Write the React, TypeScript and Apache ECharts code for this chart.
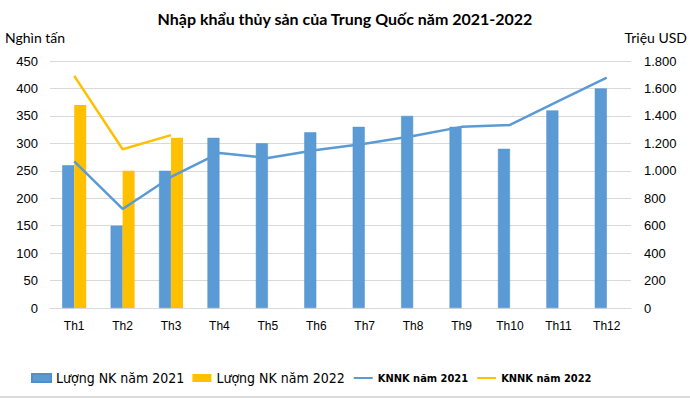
import React, { useEffect, useRef } from "react";
import * as echarts from "echarts";

const categories = ["Th1", "Th2", "Th3", "Th4", "Th5", "Th6", "Th7", "Th8", "Th9", "Th10", "Th11", "Th12"];
const volume2021 = [260, 150, 250, 310, 300, 320, 330, 350, 330, 290, 360, 400];
const volume2022 = [370, 250, 310, null, null, null, null, null, null, null, null, null];
const value2021 = [1068, 722, 955, 1130, 1093, 1151, 1197, 1253, 1320, 1334, 1508, 1678];
const value2022 = [1692, 1157, 1260, null, null, null, null, null, null, null, null, null];
const leftTicks = { min: 0, max: 450, interval: 50 };
const rightTicks = { min: 0, max: 1800, interval: 200 };

const BLUE = "#5B9BD5";
const ORANGE = "#FFC000";
const NARROW = "'Liberation Sans Narrow', 'Arial Narrow', 'DejaVu Sans Condensed', 'Liberation Sans', sans-serif";

export default function App() {
  const ref = useRef<HTMLDivElement>(null);
  useEffect(() => {
    if (!ref.current) return;
    const chart = echarts.init(ref.current, null, { renderer: "svg" });
    const hidden = { color: "rgba(0,0,0,0)", borderWidth: 0, opacity: 0 };
    chart.setOption({
      animation: false,
      backgroundColor: "#ffffff",
      title: {
        text: "Nhập khẩu thủy sản của Trung Quốc năm 2021-2022",
        left: "center",
        top: 5,
        textStyle: { fontFamily: "Lato", fontWeight: "bold", fontSize: 16, color: "#000" },
      },
      grid: { left: 50, right: 58, top: 61, bottom: 90 },
      legend: {
        left: 26,
        top: 366,
        itemGap: 8,
        itemWidth: 19,
        itemHeight: 8,
        data: [
          { name: "Lượng NK năm 2021", icon: "rect", textStyle: { fontFamily: NARROW, fontSize: 14, color: "#000" } },
          { name: "Lượng NK năm 2022", icon: "rect", textStyle: { fontFamily: NARROW, fontSize: 14, color: "#000" } },
          { name: "KNNK năm 2021", itemStyle: hidden, textStyle: { fontFamily: NARROW, fontSize: 11, fontWeight: "bold", color: "#000" } },
          { name: "KNNK năm 2022", itemStyle: hidden, textStyle: { fontFamily: NARROW, fontSize: 11, fontWeight: "bold", color: "#000" } },
        ],
      },
      xAxis: {
        type: "category",
        data: categories,
        axisTick: { show: false },
        axisLine: { lineStyle: { color: "#d9d9d9" } },
        axisLabel: { fontFamily: "Liberation Sans", fontSize: 12, color: "#000", margin: 12 },
      },
      yAxis: [
        {
          type: "value",
          ...leftTicks,
          name: "Nghìn tấn",
          nameLocation: "end",
          nameGap: 17,
          nameTextStyle: { fontFamily: "Lato", fontSize: 14, color: "#000", align: "left", padding: [0, 0, 0, -45] },
          axisLine: { show: false },
          axisTick: { show: false },
          splitLine: { lineStyle: { color: "#d9d9d9" } },
          axisLabel: { fontFamily: "Liberation Sans", fontSize: 13, color: "#000", margin: 12 },
        },
        {
          type: "value",
          ...rightTicks,
          name: "Triệu USD",
          nameLocation: "end",
          nameGap: 17,
          nameTextStyle: { fontFamily: "Lato", fontSize: 14, color: "#000", align: "right", padding: [0, -56, 0, 0] },
          axisLine: { show: false },
          axisTick: { show: false },
          splitLine: { show: false },
          axisLabel: {
            fontFamily: "Liberation Sans",
            fontSize: 13,
            color: "#000",
            margin: 13,
            formatter: (v: number) => String(v).replace(/\B(?=(\d{3})+(?!\d))/g, "."),
          },
        },
      ],
      series: [
        {
          name: "Lượng NK năm 2021",
          type: "bar",
          data: volume2021,
          barWidth: 12,
          barGap: "0%",
          itemStyle: { color: BLUE, borderColor: "#4f8fcb", borderWidth: 0.5 },
        },
        {
          name: "Lượng NK năm 2022",
          type: "bar",
          data: volume2022,
          barWidth: 12,
          barGap: "0%",
          itemStyle: { color: ORANGE },
        },
        {
          name: "KNNK năm 2021",
          type: "line",
          yAxisIndex: 1,
          data: value2021,
          symbol: "none",
          lineStyle: { color: BLUE, width: 2.5 },
          itemStyle: { color: BLUE },
        },
        {
          name: "KNNK năm 2022",
          type: "line",
          yAxisIndex: 1,
          data: value2022,
          symbol: "none",
          lineStyle: { color: ORANGE, width: 2.5 },
          itemStyle: { color: ORANGE },
        },
      ],
      graphic: [
        { type: "line", shape: { x1: 0, y1: 397, x2: 690, y2: 397 }, style: { stroke: "#d0d0d0", lineWidth: 1.5 } },
      ],
    });
    return () => chart.dispose();
  }, []);
  return <div ref={ref} style={{ width: 690, height: 398, position: "absolute", left: 0, top: 0 }} />;
}
